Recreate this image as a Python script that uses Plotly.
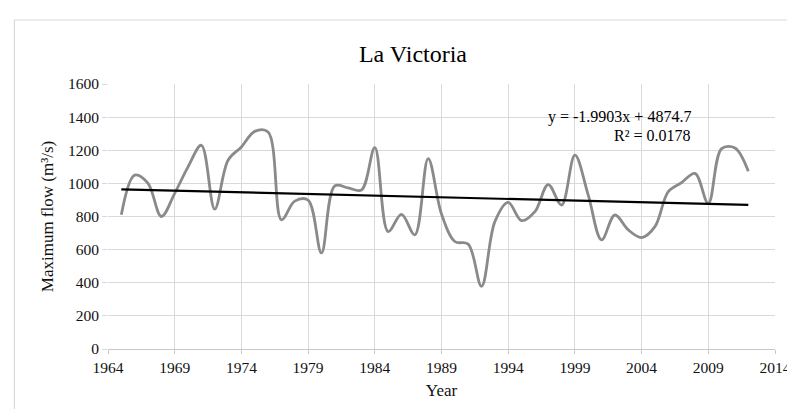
import plotly.graph_objects as go

years = list(range(1965, 2013))
max_flow = [810, 1050, 1000, 800, 940, 1100, 1230, 845, 1140, 1220,
            1314, 1310, 780, 893, 899, 580, 985, 973, 960, 1216,
            709, 813, 689, 1150, 815, 649, 633, 379, 769, 885,
            775, 829, 993, 869, 1170, 929, 659, 809, 719, 673,
            739, 950, 1005, 1060, 879, 1210, 1214, 1073]

# linear trend as printed on the chart
slope = -1.9903
intercept = 4874.7
trend_x = [years[0], years[-1]]
trend_y = [slope * x + intercept for x in trend_x]

font_family = "Liberation Serif, Times New Roman, serif"
W, H = 795, 409
L, R, T, B = 100, 25, 76, 68
pw, ph = W - L - R, H - T - B

fig = go.Figure()
fig.add_trace(go.Scatter(x=years, y=max_flow, mode="lines",
                         line=dict(color="#8a8a8a", width=2.8, shape="spline", smoothing=1.0),
                         showlegend=False, hoverinfo="x+y"))
fig.add_trace(go.Scatter(x=trend_x, y=trend_y, mode="lines",
                         line=dict(color="black", width=2.2),
                         showlegend=False))

fig.update_layout(
    width=W, height=H,
    margin=dict(l=L, r=R, t=T, b=B),
    paper_bgcolor="white", plot_bgcolor="white",
    font=dict(family=font_family, color="#111111", size=15),
    # Excel centres the title on the whole chart area, not the plot area
    title=dict(text="La Victoria", x=405 / W, xanchor="center",
               y=1 - 46 / H, yanchor="middle",
               font=dict(family=font_family, size=24, color="#000000")),
)
fig.update_xaxes(range=[1964, 2014], tick0=1964, dtick=5,
                 showgrid=True, gridcolor="#d9d9d9", gridwidth=1,
                 showline=True, linecolor="#c8c8c8", linewidth=1,
                 ticks="outside", ticklen=4, tickcolor="#c8c8c8",
                 zeroline=False,
                 title=dict(text="Year", font=dict(family=font_family, size=17), standoff=9),
                 tickfont=dict(family=font_family, size=15.5))
fig.update_yaxes(range=[0, 1600], dtick=200,
                 showgrid=True, gridcolor="#d9d9d9", gridwidth=1,
                 ticks="outside", ticklen=5, tickcolor="#d9d9d9",
                 showline=False, zeroline=False,
                 title=dict(text="Maximum flow (m\u00b3/s)", font=dict(family=font_family, size=17), standoff=9),
                 tickfont=dict(family=font_family, size=15.5))

fig.add_annotation(xref="paper", yref="paper", x=(687.5 - L) / pw, y=(H - B - 98.3) / ph,
                   text="y = -1.9903x + 4874.7", showarrow=False,
                   font=dict(family=font_family, size=16, color="#000000"))
fig.add_annotation(xref="paper", yref="paper", x=(687.5 - L) / pw, y=(H - B - 116.7) / ph,
                   text="R\u00b2 = 0.0178", showarrow=False,
                   font=dict(family=font_family, size=16, color="#000000"))

# chart area border (Excel style), only top and left show in the frame
fig.add_shape(type="rect", xref="paper", yref="paper",
              x0=(6 - L) / pw, x1=1.2, y0=-0.5, y1=(H - B - 12) / ph,
              line=dict(color="#d9d9d9", width=1.2), layer="below")

fig.write_html("out.html")
